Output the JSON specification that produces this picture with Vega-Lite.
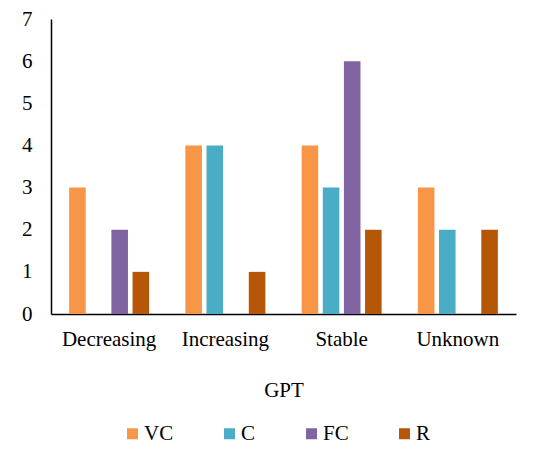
{
  "$schema": "https://vega.github.io/schema/vega-lite/v6.json",
  "width": 465,
  "height": 295,
  "autosize": "none",
  "padding": {"left": 51, "top": 19, "right": 24, "bottom": 139},
  "background": "white",
  "config": {
    "font": "Liberation Serif",
    "view": {"stroke": null},
    "axis": {"labelFont": "Liberation Serif", "titleFont": "Liberation Serif", "labelFontSize": 21, "titleFontSize": 21, "labelColor": "#000", "titleColor": "#000", "titleFontWeight": "normal", "grid": false, "ticks": false, "domainColor": "#000", "domainWidth": 1.5},
    "legend": {"labelFont": "Liberation Serif", "labelFontSize": 21, "labelColor": "#000"}
  },
  "data": {
    "values": [
      {"trend": "Decreasing", "series": "VC", "count": 3},
      {"trend": "Decreasing", "series": "C", "count": 0},
      {"trend": "Decreasing", "series": "FC", "count": 2},
      {"trend": "Decreasing", "series": "R", "count": 1},
      {"trend": "Increasing", "series": "VC", "count": 4},
      {"trend": "Increasing", "series": "C", "count": 4},
      {"trend": "Increasing", "series": "FC", "count": 0},
      {"trend": "Increasing", "series": "R", "count": 1},
      {"trend": "Stable", "series": "VC", "count": 4},
      {"trend": "Stable", "series": "C", "count": 3},
      {"trend": "Stable", "series": "FC", "count": 6},
      {"trend": "Stable", "series": "R", "count": 2},
      {"trend": "Unknown", "series": "VC", "count": 3},
      {"trend": "Unknown", "series": "C", "count": 2},
      {"trend": "Unknown", "series": "FC", "count": 0},
      {"trend": "Unknown", "series": "R", "count": 2}
    ]
  },
  "mark": {"type": "bar"},
  "encoding": {
    "x": {
      "field": "trend", "type": "nominal", "title": "GPT",
      "sort": ["Decreasing", "Increasing", "Stable", "Unknown"],
      "scale": {"paddingInner": 0.312, "paddingOuter": 0.156},
      "axis": {"labelAngle": 0, "labelPadding": 14, "titlePadding": 30}
    },
    "xOffset": {
      "field": "series", "type": "nominal",
      "sort": ["VC", "C", "FC", "R"],
      "scale": {"paddingInner": 0.216, "paddingOuter": 0}
    },
    "y": {
      "field": "count", "type": "quantitative", "title": null,
      "scale": {"domain": [0, 7], "nice": false},
      "axis": {"values": [0, 1, 2, 3, 4, 5, 6, 7], "labelPadding": 19}
    },
    "color": {
      "field": "series", "type": "nominal",
      "sort": ["VC", "C", "FC", "R"],
      "scale": {"domain": ["VC", "C", "FC", "R"], "range": ["#F79646", "#4BACC6", "#8064A2", "#B65708"]},
      "legend": {
        "title": null, "orient": "none", "direction": "horizontal",
        "legendX": 71, "legendY": 404, "padding": 0,
        "symbolType": "square", "symbolSize": 121, "symbolStrokeWidth": 0,
        "labelOffset": 1, "columnPadding": 45
      }
    }
  }
}
